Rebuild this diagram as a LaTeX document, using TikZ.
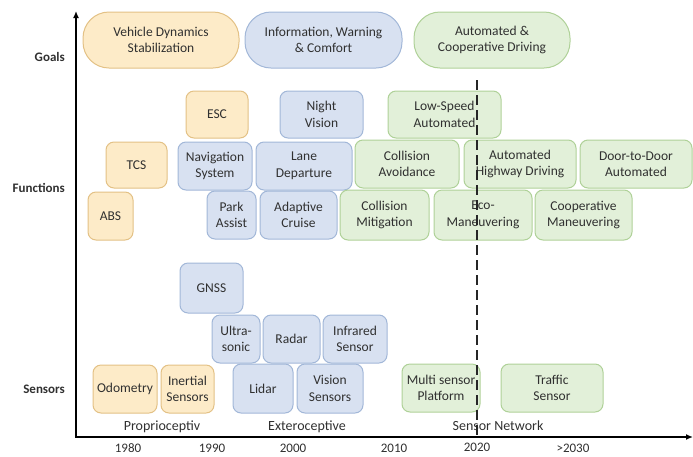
\documentclass[tikz,border=0pt]{standalone}
\usepackage{fontspec}
\setmainfont{Carlito}
\usetikzlibrary{arrows.meta}
\definecolor{ofill}{HTML}{FDEBC8}
\definecolor{odraw}{HTML}{E3C185}
\definecolor{bfill}{HTML}{D8E1F1}
\definecolor{bdraw}{HTML}{A2B7D8}
\definecolor{gfill}{HTML}{E2F0D9}
\definecolor{gdraw}{HTML}{AFD198}
\definecolor{txt}{HTML}{303030}
\tikzset{
  box/.style={rectangle, rounded corners=8pt, line width=1pt, inner sep=0pt, outer sep=0pt,
    align=center, font=\fontsize{13.5}{16.5}\selectfont, text=txt},
  goal/.style={box, rounded corners=26pt},
  ob/.style={fill=ofill, draw=odraw},
  bb/.style={fill=bfill, draw=bdraw},
  gb/.style={fill=gfill, draw=gdraw},
  rowlab/.style={font=\bfseries\fontsize{13}{15}\selectfont, text=txt, anchor=east, inner sep=0pt},
  yearlab/.style={font=\fontsize{13}{15}\selectfont, text=txt, inner sep=0pt},
  catlab/.style={font=\fontsize{14}{16}\selectfont, text=txt, inner sep=0pt},
  axis/.style={line width=1.8pt, -{Latex[length=7pt,width=6pt]}},
}
\begin{document}
\begin{tikzpicture}[x=1pt,y=-1pt]
\useasboundingbox (0,0) rectangle (693,456);
% axes
\coordinate (origin) at (76,437);
\coordinate (ytop) at (76,11);
\coordinate (xend) at (693,437);
\draw[axis] (origin) -- (ytop);
\draw[axis] ([xshift=-1pt]origin) -- (xend);

% row labels
\node[rowlab] (goals) at (65,57) {Goals};
\node[rowlab] (functions) at (65,188) {Functions};
\node[rowlab] (sensors) at (65,389) {Sensors};

% years
\node[yearlab] (y1980) at (128,448) {1980};
\node[yearlab] (y1990) at (212,448) {1990};
\node[yearlab] (y2000) at (293,448) {2000};
\node[yearlab] (y2010) at (394,448) {2010};
\node[yearlab] (y2020) at (477,447) {2020};
\node[yearlab] (y2030) at (573,448) {>2030};

% categories
\node[catlab] (prop) at (162,427) {Proprioceptiv};
\node[catlab] (extero) at (307,427) {Exteroceptive};
\node[catlab] (sensnet) at (498,426) {Sensor Network};

% goals
\node[goal,ob,minimum width=156pt,minimum height=56pt] (vds) at (161,40) {Vehicle Dynamics\\Stabilization};
\node[goal,bb,minimum width=157pt,minimum height=56pt] (iwc) at (323.5,40) {Information, Warning\\\& Comfort};
\node[goal,gb,minimum width=156pt,minimum height=56pt] (acd) at (492,40) {Automated \&\\Cooperative Driving};

% functions
\node[box,ob,minimum width=62pt,minimum height=47pt] (esc) at (217,114.5) {ESC};
\node[box,bb,minimum width=83pt,minimum height=47pt] (nv) at (321.5,114.5) {Night\\Vision};
\node[box,gb,minimum width=113pt,minimum height=47pt] (lsa) at (444.5,114.5) {Low-Speed\\Automated};
\node[box,ob,minimum width=61pt,minimum height=46pt] (tcs) at (136.5,165) {TCS};
\node[box,bb,minimum width=74pt,minimum height=48pt] (nav) at (215,166) {Navigation\\System};
\node[box,bb,minimum width=96pt,minimum height=48pt] (ld) at (304,166) {Lane\\Departure};
\node[box,gb,minimum width=104pt,minimum height=48pt] (ca) at (407,164) {Collision\\Avoidance};
\node[box,gb,minimum width=112pt,minimum height=48pt] (ahd) at (520,164) {Automated\\Highway Driving};
\node[box,gb,minimum width=112pt,minimum height=48pt] (d2d) at (636,164) {Door-to-Door\\Automated};
\node[box,ob,minimum width=45pt,minimum height=48pt] (abs) at (110.5,216) {ABS};
\node[box,bb,minimum width=49pt,minimum height=48pt] (pa) at (231.5,215) {Park\\Assist};
\node[box,bb,minimum width=77pt,minimum height=48pt] (ac) at (298.5,215) {Adaptive\\Cruise};
\node[box,gb,minimum width=89pt,minimum height=50pt] (cm) at (384.5,215) {Collision\\Mitigation};
\node[box,gb,minimum width=98pt,minimum height=50pt] (eco) at (483,215) {Eco-\\Maneuvering};
\node[box,gb,minimum width=97pt,minimum height=50pt] (cmv) at (583.5,215) {Cooperative\\Maneuvering};

% sensors
\node[box,bb,minimum width=63pt,minimum height=50pt] (gnss) at (211.5,288) {GNSS};
\node[box,bb,minimum width=48pt,minimum height=48pt] (us) at (236,339) {Ultra-\\sonic};
\node[box,bb,minimum width=57pt,minimum height=48pt] (radar) at (291.5,339) {Radar};
\node[box,bb,minimum width=64pt,minimum height=48pt] (ir) at (355,339) {Infrared\\Sensor};
\node[box,ob,minimum width=64pt,minimum height=48pt] (odo) at (125,389) {Odometry};
\node[box,ob,minimum width=53pt,minimum height=48pt] (ins) at (187.5,389) {Inertial\\Sensors};
\node[box,bb,minimum width=60pt,minimum height=49pt] (lidar) at (263,388.5) {Lidar};
\node[box,bb,minimum width=66pt,minimum height=49pt] (vis) at (330,388.5) {Vision\\Sensors};
\node[box,gb,minimum width=78pt,minimum height=48pt] (msp) at (441,388) {Multi sensor\\Platform};
\node[box,gb,minimum width=102pt,minimum height=48pt] (ts) at (552,388) {Traffic\\Sensor};

% dashed 2020 line
\coordinate (dtop) at (477,80);
\coordinate (dbot) at (477,437);
\draw[line width=1.8pt, dash pattern=on 10pt off 5pt, color=black!85] (dtop) -- (dbot);
\end{tikzpicture}
\end{document}
